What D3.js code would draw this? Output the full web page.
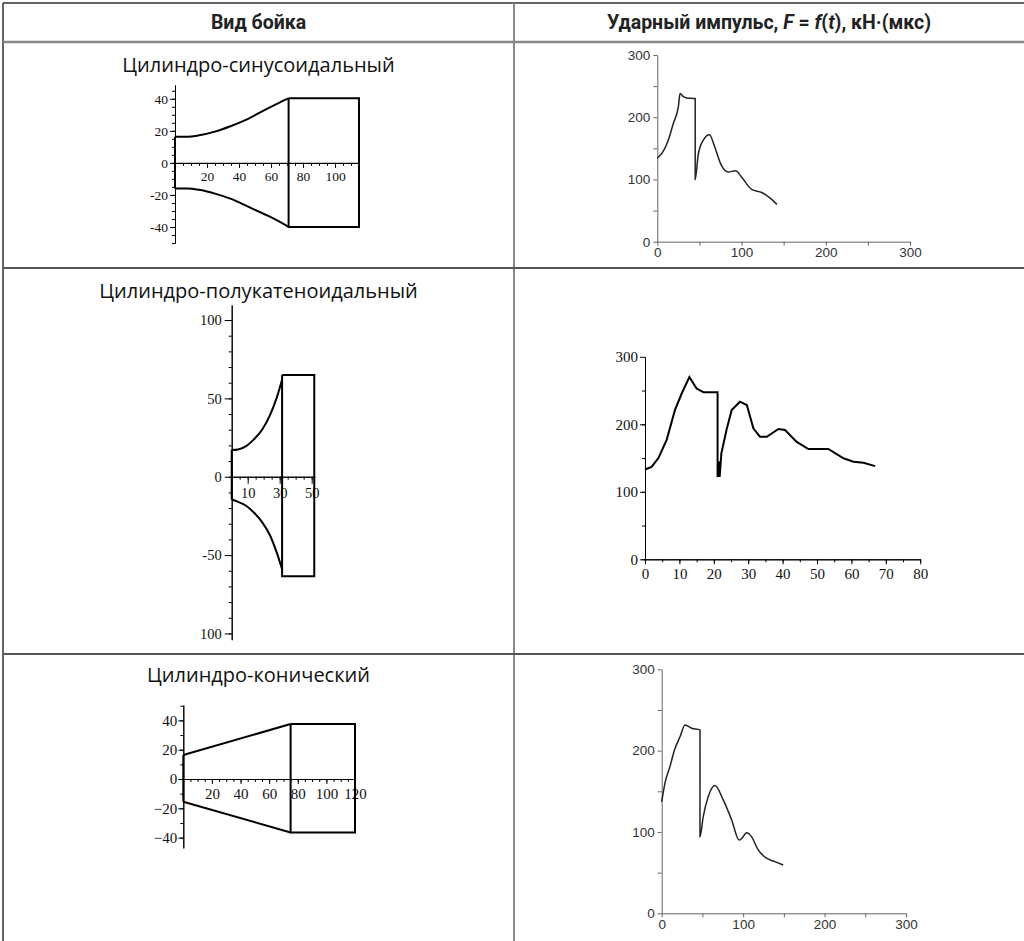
<!DOCTYPE html>
<html lang="ru">
<head>
<meta charset="UTF-8">
<title>Вид бойка и ударный импульс</title>
<script src="https://d3js.org/d3.v7.min.js"></script>
<style>
  body { margin: 0; background: #fff; }
  .head { font-family: Roboto, "Noto Sans", sans-serif; font-weight: 700; font-size: 19.5px; fill: #222; }
  .title { font-family: "Open Sans", "Noto Sans", sans-serif; font-size: 20px; fill: #111; }
  .profile, .maple-curve { fill: none; stroke: #000; stroke-width: 2; }
  .excel-curve { fill: none; stroke: #222; stroke-width: 1.5; }
</style>
</head>
<body>
<script>
// ---- table text ----
var headLeft = "Вид бойка";
var headRight = [["Ударный импульс, ", false], ["F", true], [" = ", false], ["f", true], ["(", false], ["t", true], ["), кН·(мкс)", false]];
var rowTitles = ["Цилиндро-синусоидальный", "Цилиндро-полукатеноидальный", "Цилиндро-конический"];

// ---- striker profiles: x along the striker, upper / lower contour ----
var sinX   = [0, 8, 15, 25, 35, 45, 55, 65, 71];
var sinTop = [16.3, 16.3, 17.2, 19.5, 23, 27.1, 32.5, 37.5, 40.3];
var sinBot = [-16, -16, -16.8, -19.2, -22.5, -27, -31.6, -36.5, -40];
var sinCyl = [71, 115, 40.3, -40];          // cylinder: x start, x end, top, bottom

var catX   = [0, 4, 9, 14, 19, 24, 28, 31.5];
var catTop = [17, 17.4, 19.5, 24, 30, 39.5, 50, 62];
var catBot = [-14.5, -16, -18.5, -23, -29, -37.5, -48, -59];
var catCyl = [31.5, 51.6, 65, -63.5];

var conX   = [0, 75];
var conTop = [16.4, 37.5];
var conBot = [-15.5, -36.5];
var conCyl = [75, 120, 37.5, -36.5];

// ---- impact impulse F(t) ----
var imp1T = [0, 7, 13, 19, 25, 27, 31, 35, 45, 45, 48.5, 54.5, 62, 68, 76, 84, 93, 100, 112, 124, 134, 142];
var imp1F = [134, 145, 163, 190, 217, 238, 233, 231, 230, 100, 139, 163, 172, 153, 123, 112, 114, 104, 84, 79, 70, 60];

var imp2T = [0, 1.9, 3.9, 6.3, 8.7, 10.7, 12.9, 15, 17, 21.1, 21.1, 21.4, 21.7, 22.2, 23.7, 25.2, 27.6, 29.6, 31.5, 33.4, 35.4, 38.8, 40.7, 44.1, 47.5, 53.3, 57.7, 60.6, 63.5, 66.9];
var imp2F = [133, 137, 150, 177, 221, 246, 270, 253, 247.5, 247.5, 122, 145, 122, 157, 192, 221, 233.5, 228.6, 194, 181.6, 181.6, 193, 191.6, 174, 163.4, 163.4, 149.6, 144.6, 143, 138];

var imp3T = [0, 4, 10, 16, 22.5, 28.6, 36.8, 47, 47, 51, 57, 65.4, 75.6, 85.9, 95.2, 98.2, 104.3, 110.4, 118.5, 128.8, 139, 149.2];
var imp3F = [137, 160, 180, 201.7, 217, 231.6, 227.5, 225.5, 94, 119, 143, 157, 139.4, 114.8, 90, 92, 99, 94, 78, 67.7, 63.5, 59.4];

// ---- tick labels ----
var p1YTicks = [40, 20, 0, -20, -40], p1YLab = ["40", "20", "0", "-20", "-40"];
var p1XTicks = [20, 40, 60, 80, 100];
var p2YTicks = [100, 50, 0, -50, -100], p2YLab = ["100", "50", "0", "-50", "100"];
var p2XTicks = [10, 30, 50];
var p3YTicks = [40, 20, 0, -20, -40], p3YLab = ["40", "20", "0", "\u221220", "\u221240"];
var p3XTicks = [20, 40, 60, 80, 100, 120];
var impTicks = [0, 100, 200, 300];
var imp2XTicks = [0, 10, 20, 30, 40, 50, 60, 70, 80];

var W = 1024, H = 941;
var svg = d3.select("body").append("svg").attr("width", W).attr("height", H);

// ---- table grid ----
var colX = 514, headY = 42, rowY = [268, 654];
svg.append("line").attr("x1", 3).attr("x2", W).attr("y1", 3).attr("y2", 3).attr("stroke", "#333").attr("stroke-width", 1.5);
svg.append("line").attr("x1", 3).attr("x2", 3).attr("y1", 3).attr("y2", H).attr("stroke", "#333").attr("stroke-width", 1.5);
svg.append("line").attr("x1", colX).attr("x2", colX).attr("y1", 3).attr("y2", H).attr("stroke", "#888").attr("stroke-width", 2);
svg.append("line").attr("x1", 3).attr("x2", W).attr("y1", headY).attr("y2", headY).attr("stroke", "#888").attr("stroke-width", 2.5);
rowY.forEach(function (y) {
  svg.append("line").attr("x1", 3).attr("x2", W).attr("y1", y).attr("y2", y).attr("stroke", "#555").attr("stroke-width", 2);
});

svg.append("text").attr("class", "head").attr("x", 258.5).attr("y", 29).attr("text-anchor", "middle").text(headLeft);
var hr = svg.append("text").attr("class", "head").attr("x", 769).attr("y", 29).attr("text-anchor", "middle");
headRight.forEach(function (p) {
  hr.append("tspan").attr("font-style", p[1] ? "italic" : null).text(p[0]);
});

var titleY = [72, 298, 682];
rowTitles.forEach(function (t, i) {
  svg.append("text").attr("class", "title").attr("x", 258.5).attr("y", titleY[i]).attr("text-anchor", "middle").text(t);
});

// ---- helpers ----
function styleAxis(sel, color, font, size) {
  sel.attr("font-family", font).attr("font-size", size);
  sel.selectAll(".domain").attr("stroke", color);
  sel.selectAll(".tick line").attr("stroke", color);
  sel.selectAll("text").attr("fill", "#111");
}

function mapleAxes(x, y, o) {
  var g = svg.append("g");
  var ax = x(0), ay = y(0);
  var yMinor = d3.range(Math.ceil(y.domain()[0] / o.yStep) * o.yStep, y.domain()[1], o.yStep);
  var xMinor = d3.range(0, x.domain()[1] + 0.01, o.xStep);
  g.append("g").attr("transform", "translate(" + ax + ",0)")
    .call(d3.axisLeft(y).tickValues(yMinor).tickSize(3).tickSizeOuter(0).tickFormat(""))
    .call(styleAxis, "#000", o.font, o.fs);
  g.append("g").attr("transform", "translate(" + ax + ",0)")
    .call(d3.axisLeft(y).tickValues(o.yTicks).tickSize(o.major).tickSizeOuter(0).tickPadding(o.pad)
      .tickFormat(function (d, i) { return o.yLab[i]; }))
    .call(styleAxis, "#000", o.font, o.fs);
  g.append("g").attr("transform", "translate(0," + ay + ")")
    .call(d3.axisBottom(x).tickValues(xMinor).tickSize(3).tickSizeOuter(0).tickFormat(""))
    .call(styleAxis, "#000", o.font, o.fs);
  g.append("g").attr("transform", "translate(0," + ay + ")")
    .call(d3.axisBottom(x).tickValues(o.xTicks).tickSize(o.major).tickSizeOuter(0).tickPadding(o.xpad))
    .call(styleAxis, "#000", o.font, o.fs);
  return g;
}

function profile(x, y, xs, top, bot, cyl) {
  var line = d3.line().x(function (d) { return x(d[0]); }).y(function (d) { return y(d[1]); });
  var smooth = d3.line().curve(d3.curveMonotoneX).x(function (d) { return x(d[0]); }).y(function (d) { return y(d[1]); });
  var up = xs.map(function (v, i) { return [v, top[i]]; });
  var lo = xs.map(function (v, i) { return [v, bot[i]]; });
  svg.append("path").attr("class", "profile").attr("d", smooth(up));
  svg.append("path").attr("class", "profile").attr("d", smooth(lo));
  svg.append("path").attr("class", "profile").attr("d", line([[xs[0], top[0]], [xs[0], bot[0]]]));
  svg.append("path").attr("class", "profile")
    .attr("d", line([[cyl[0], cyl[2]], [cyl[1], cyl[2]], [cyl[1], cyl[3]], [cyl[0], cyl[3]], [cyl[0], cyl[2]]]));
}

function excelAxes(x, y) {
  var fmt = function (d) { return d % 100 === 0 ? d : ""; };
  var vals = d3.range(0, 301, 50);
  svg.append("g").attr("transform", "translate(" + x(0) + ",0)")
    .call(d3.axisLeft(y).tickValues(vals).tickSize(4).tickSizeOuter(0).tickPadding(3).tickFormat(fmt))
    .call(styleAxis, "#666", "'Liberation Sans', Arial, sans-serif", 13.5)
    .selectAll("text").attr("fill", "#333");
  svg.append("g").attr("transform", "translate(0," + y(0) + ")")
    .call(d3.axisBottom(x).tickValues(vals).tickSize(4).tickSizeOuter(0).tickPadding(2).tickFormat(fmt))
    .call(styleAxis, "#666", "'Liberation Sans', Arial, sans-serif", 13.5)
    .selectAll("text").attr("fill", "#333");
}

function curve(x, y, ts, fs, cls, c) {
  var line = d3.line().curve(c).x(function (d) { return x(d[0]); }).y(function (d) { return y(d[1]); });
  svg.append("path").attr("class", cls).attr("d", line(ts.map(function (t, i) { return [t, fs[i]]; })));
}

var serif = "'Liberation Serif', 'DejaVu Serif', serif";

// ---- row 1 ----
var x1 = d3.scaleLinear().domain([0, 115]).range([175, 359]);
var y1 = d3.scaleLinear().domain([-50, 48.6]).range([243, 85]);
mapleAxes(x1, y1, { yTicks: p1YTicks, yLab: p1YLab, xTicks: p1XTicks, yStep: 5, xStep: 5, major: 5, pad: 2, xpad: 4, font: serif, fs: 13.5 });
profile(x1, y1, sinX, sinTop, sinBot, sinCyl);

var ex1 = d3.scaleLinear().domain([0, 300]).range([657.3, 910]);
var ey1 = d3.scaleLinear().domain([0, 300]).range([241.7, 55]);
excelAxes(ex1, ey1);
curve(ex1, ey1, imp1T, imp1F, "excel-curve", d3.curveMonotoneX);

// ---- row 2 ----
var x2 = d3.scaleLinear().domain([0, 52]).range([231.7, 314.9]);
var y2 = d3.scaleLinear().domain([-104, 109.6]).range([639.7, 305]);
mapleAxes(x2, y2, { yTicks: p2YTicks, yLab: p2YLab, xTicks: p2XTicks, yStep: 10, xStep: 5, major: 7, pad: 3, xpad: 4, font: serif, fs: 14.5 });
profile(x2, y2, catX, catTop, catBot, catCyl);

var mx2 = d3.scaleLinear().domain([0, 80]).range([645, 920.2]);
var my2 = d3.scaleLinear().domain([0, 300]).range([559.3, 356.8]);
mapleAxes(mx2, my2, { yTicks: impTicks, yLab: ["0", "100", "200", "300"], xTicks: imp2XTicks, yStep: 50, xStep: 5, major: 5, pad: 2, xpad: 4, font: serif, fs: 15 });
curve(mx2, my2, imp2T, imp2F, "maple-curve", d3.curveLinear);

// ---- row 3 ----
var x3 = d3.scaleLinear().domain([0, 120]).range([183.3, 355]);
var y3 = d3.scaleLinear().domain([-47, 50.5]).range([847.9, 705]);
mapleAxes(x3, y3, { yTicks: p3YTicks, yLab: p3YLab, xTicks: p3XTicks, yStep: 10, xStep: 5, major: 5, pad: 1, xpad: 4, font: serif, fs: 15 });
profile(x3, y3, conX, conTop, conBot, conCyl);

var ex3 = d3.scaleLinear().domain([0, 300]).range([661.7, 906]);
var ey3 = d3.scaleLinear().domain([0, 300]).range([913.3, 669.3]);
excelAxes(ex3, ey3);
curve(ex3, ey3, imp3T, imp3F, "excel-curve", d3.curveMonotoneX);
</script>
</body>
</html>
